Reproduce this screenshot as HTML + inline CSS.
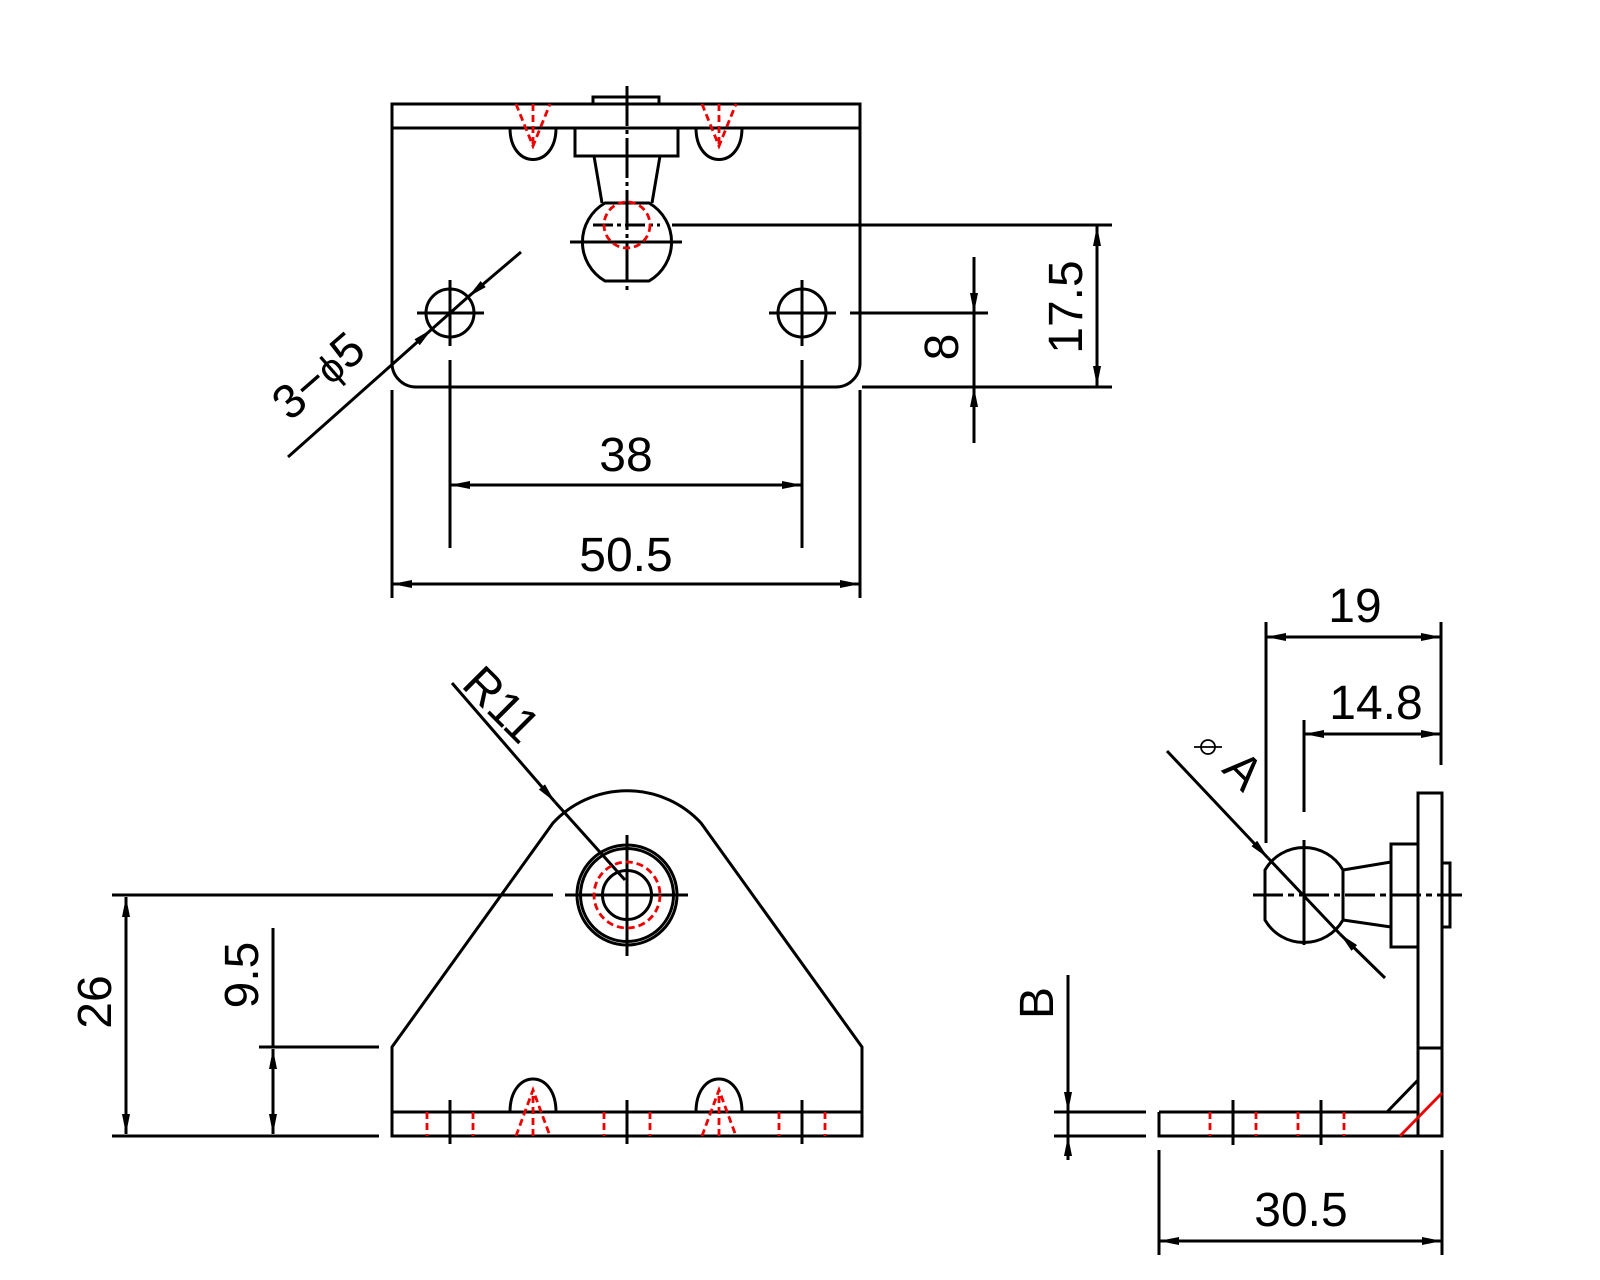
<!DOCTYPE html>
<html><head><meta charset="utf-8"><style>
html,body{margin:0;padding:0;background:#fff;}
svg{display:block;}
text{font-family:"Liberation Sans",sans-serif;fill:#000;}
</style></head><body>
<svg width="1600" height="1280" viewBox="0 0 1600 1280" xmlns="http://www.w3.org/2000/svg">
<defs>
<marker id="ar" viewBox="0 0 20 8" refX="20" refY="4" markerWidth="20" markerHeight="8" markerUnits="userSpaceOnUse" orient="auto-start-reverse">
<path d="M0,0 L20,4 L0,8 z" fill="#000"/>
</marker>
</defs>
<g fill="none" stroke="#000" stroke-width="3">
<!-- ===== TOP VIEW ===== -->
<path d="M392,104 H860 V363 A24,24 0 0 1 836,387 H416 A24,24 0 0 1 392,363 Z"/>
<line x1="392" y1="128" x2="860" y2="128"/>
<rect x="593" y="97" width="66" height="7"/>
<path d="M510,128 C510,170 556,170 556,128"/>
<path d="M696,128 C696,170 742,170 742,128"/>
<rect x="575" y="128" width="103" height="28"/>
<path d="M594,156 L602,203 M660,156 L652,203"/>
<path d="M605,203 H649 A45,45 0 0 1 649,281 H605 A45,45 0 0 1 605,203 Z"/>
<path d="M627,86 V292" stroke-dasharray="40,4,4,4"/>
<line x1="570" y1="242" x2="682" y2="242"/>
<line x1="593" y1="225" x2="660" y2="225" stroke-dasharray="20,4,4,4"/>
<circle cx="450" cy="313" r="24"/>
<circle cx="802" cy="313" r="24"/>
<path d="M417,313 H484 M450,280 V346 M769,313 H836 M802,280 V346"/>
<path d="M850,313 H988"/>
<path d="M672,225 H1112 M862,387 H1112"/>
<path d="M450,360 V548 M802,360 V548"/>
<line x1="450" y1="485" x2="802" y2="485" marker-start="url(#ar)" marker-end="url(#ar)"/>
<path d="M392,390 V598 M860,390 V598"/>
<line x1="392" y1="584" x2="860" y2="584" marker-start="url(#ar)" marker-end="url(#ar)"/>
<line x1="1097" y1="226" x2="1097" y2="386" marker-start="url(#ar)" marker-end="url(#ar)"/>
<line x1="974" y1="257" x2="974" y2="313" marker-end="url(#ar)"/>
<line x1="974" y1="443" x2="974" y2="387" marker-end="url(#ar)"/>
<line x1="974" y1="313" x2="974" y2="387"/>
<line x1="288" y1="457" x2="432" y2="329" marker-end="url(#ar)"/>
<line x1="432" y1="329" x2="468" y2="297"/>
<line x1="521" y1="252" x2="468" y2="297" marker-end="url(#ar)"/>
<!-- ===== FRONT VIEW ===== -->
<path d="M392,1136 V1047 L553,823 A101,101 0 0 1 701,823 L862,1047 V1136 Z"/>
<line x1="392" y1="1112" x2="862" y2="1112"/>
<path d="M510,1112 C510,1068 556,1068 556,1112"/>
<path d="M696,1112 C696,1068 742,1068 742,1112"/>
<circle cx="627" cy="895" r="50"/>
<circle cx="627" cy="895" r="46.5"/>
<circle cx="627" cy="895" r="24.5"/>
<path d="M565,895 H688 M627,835 V956"/>
<path d="M450,1100 V1144 M627,1100 V1144 M802,1100 V1144"/>
<path d="M112,895 H553 M259,1047 H379 M112,1136 H379"/>
<line x1="126" y1="897" x2="126" y2="1134" marker-start="url(#ar)" marker-end="url(#ar)"/>
<line x1="273" y1="928" x2="273" y2="1047"/>
<line x1="273" y1="1049" x2="273" y2="1134" marker-start="url(#ar)" marker-end="url(#ar)"/>
<line x1="452" y1="683" x2="555" y2="802" marker-end="url(#ar)"/>
<line x1="555" y1="802" x2="625" y2="880"/>
<!-- ===== SIDE VIEW ===== -->
<rect x="1418" y="793" width="24" height="343"/>
<path d="M1159,1112 H1418 M1159,1112 V1136 H1418 M1418,1048 H1442"/>
<line x1="1387" y1="1112" x2="1418" y2="1080"/>
<rect x="1391" y="844" width="27" height="103"/>
<rect x="1442" y="863" width="8" height="64"/>
<path d="M1343,870 L1391,862 M1343,920 L1391,927"/>
<path d="M1265,870 A45,45 0 0 1 1343,870 V920 A45,45 0 0 1 1265,920 Z"/>
<path d="M1253,895 H1462" stroke-dasharray="30,5,6,5"/>
<path d="M1304,840 V945"/>
<path d="M1233,1100 V1145 M1321,1100 V1145"/>
<path d="M1054,1112 H1146 M1054,1136 H1146"/>
<line x1="1068" y1="975" x2="1068" y2="1112" marker-end="url(#ar)"/>
<line x1="1068" y1="1160" x2="1068" y2="1136" marker-end="url(#ar)"/>
<line x1="1068" y1="1112" x2="1068" y2="1136"/>
<path d="M1266,622 V843 M1441,622 V765 M1304,720 V812"/>
<line x1="1266" y1="637" x2="1441" y2="637" marker-start="url(#ar)" marker-end="url(#ar)"/>
<line x1="1304" y1="734" x2="1441" y2="734" marker-start="url(#ar)" marker-end="url(#ar)"/>
<line x1="1167" y1="751" x2="1268" y2="858" marker-end="url(#ar)"/>
<line x1="1268" y1="858" x2="1340" y2="934"/>
<line x1="1385" y1="978" x2="1340" y2="934" marker-end="url(#ar)"/>
<path d="M1159,1150 V1255 M1442,1150 V1255"/>
<line x1="1159" y1="1241" x2="1442" y2="1241" marker-start="url(#ar)" marker-end="url(#ar)"/>
<circle cx="1208" cy="747" r="7" stroke-width="1.8"/>
<line x1="1194" y1="747" x2="1222" y2="747" stroke-width="1.8"/>
</g>
<g fill="none" stroke="#e00" stroke-width="2.8" stroke-dasharray="7,4">
<circle cx="627" cy="225" r="23"/>
<path d="M516,104 L533,146 L550,104 M533,104 V146"/>
<path d="M702,104 L719,146 L736,104 M719,104 V146"/>
<circle cx="627" cy="895" r="33"/>
<path d="M516,1136 L533,1090 L550,1136 M533,1136 V1090"/>
<path d="M702,1136 L719,1090 L736,1136 M719,1136 V1090"/>
<path d="M427,1112 V1136 M473,1112 V1136 M604,1112 V1136 M650,1112 V1136 M779,1112 V1136 M825,1112 V1136"/>
<path d="M1210,1112 V1136 M1256,1112 V1136 M1298,1112 V1136 M1344,1112 V1136"/>
<path d="M1400,1136 L1442,1093" stroke-dasharray="none"/>
</g>
<g font-size="48">
<text x="626" y="471" text-anchor="middle">38</text>
<text x="626" y="571" text-anchor="middle">50.5</text>
<text transform="translate(1082,307) rotate(-90)" text-anchor="middle">17.5</text>
<text transform="translate(958,347) rotate(-90)" text-anchor="middle">8</text>
<text transform="translate(329,388) rotate(-41)" text-anchor="middle">3−<tspan font-size="40">ϕ</tspan>5</text>
<text transform="translate(111,1002) rotate(-90)" text-anchor="middle">26</text>
<text transform="translate(258,975) rotate(-90)" text-anchor="middle">9.5</text>
<text transform="translate(490,716) rotate(45)" text-anchor="middle">R11</text>
<text x="1355" y="622" text-anchor="middle">19</text>
<text x="1376" y="719" text-anchor="middle">14.8</text>
<text transform="translate(1232,782) rotate(45)" text-anchor="middle">A</text>
<text transform="translate(1053,1003) rotate(-90)" text-anchor="middle">B</text>
<text x="1301" y="1226" text-anchor="middle">30.5</text>
</g>
</svg>
</body></html>
